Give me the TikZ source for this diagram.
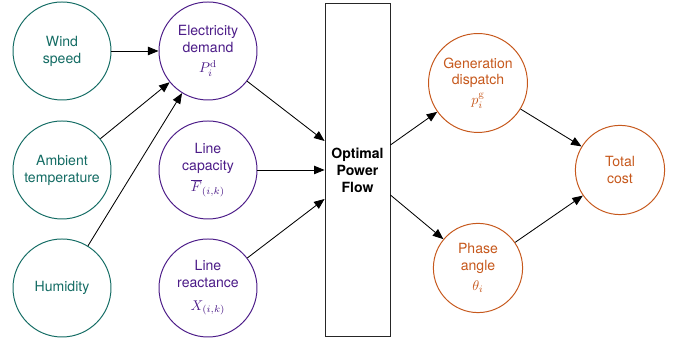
\documentclass[tikz,border=0pt]{standalone}
\usepackage{fontspec}
\setsansfont{TeX Gyre Heros}
\usetikzlibrary{arrows.meta, positioning, calc}
\definecolor{envteal}{RGB}{20, 108, 100}
\definecolor{gridpurple}{RGB}{76, 28, 136}
\definecolor{outorange}{RGB}{198, 88, 28}

\begin{document}
\begin{tikzpicture}[
        envvar/.style={circle, draw=envteal, text=envteal, line width=0.7pt, minimum size=2.45cm, align=center, font=\sffamily},
        gridvar/.style={circle, draw=gridpurple, text=gridpurple, line width=0.7pt, minimum size=2.45cm, align=center, font=\sffamily},
        outvar/.style={circle, draw=outorange, text=outorange, line width=0.7pt, minimum size=2.23cm, align=center, font=\sffamily},
        solver/.style={rectangle, draw=black!85, line width=0.6pt, minimum width=1.625cm, minimum height=8.325cm, align=center, font=\sffamily\bfseries},
        arr/.style={-{Triangle[length=7.5pt, width=6pt]}, line width=0.6pt}
    ]
        \useasboundingbox (0,0) rectangle (17.075,8.5);

        % Environment
        \node[envvar] (wind) at (1.55,7.225) {Wind\\speed};
        \node[envvar] (temp) at (1.55,4.25) {Ambient\\temperature};
        \node[envvar] (hum) at (1.55,1.3) {Humidity};

        % Grid parameters
        \node[gridvar] (dem) at (5.2,7.225) {Electricity\\demand\\[2pt]$P_i^{\mathrm{d}}$};
        \node[gridvar] (cap) at (5.2,4.25) {Line\\capacity\\[3pt]$\overline{F}_{(i,k)}$};
        \node[gridvar] (react) at (5.2,1.3) {Line\\reactance\\[4pt]$X_{(i,k)}$};

        % OPF
        \node[solver] (opf) at (8.9375,4.25) {Optimal\\Power\\Flow};

        % Outputs
        \node[outvar] (gen) at (11.95,6.425) {Generation\\dispatch\\[2pt]$p_i^{\mathrm{g}}$};
        \node[outvar] (phase) at (11.95,1.8) {Phase\\angle\\[2pt]$\theta_i$};
        \node[outvar] (cost) at (15.5,4.25) {Total\\cost};

        \draw[arr] (wind) -- (dem);
        \draw[arr] (temp) -- (dem);
        \draw[arr] (hum) -- (dem);
        \draw[arr] (dem) -- ($(opf.west)+(0,0.725)$);
        \draw[arr] (cap) -- (opf.west);
        \draw[arr] (react) -- ($(opf.west)+(0,-0.725)$);
        \draw[arr] ($(opf.east)+(0,0.625)$) -- (gen);
        \draw[arr] ($(opf.east)+(0,-0.625)$) -- (phase);
        \draw[arr] (gen) -- (cost);
        \draw[arr] (phase) -- (cost);
    \end{tikzpicture}
\end{document}
